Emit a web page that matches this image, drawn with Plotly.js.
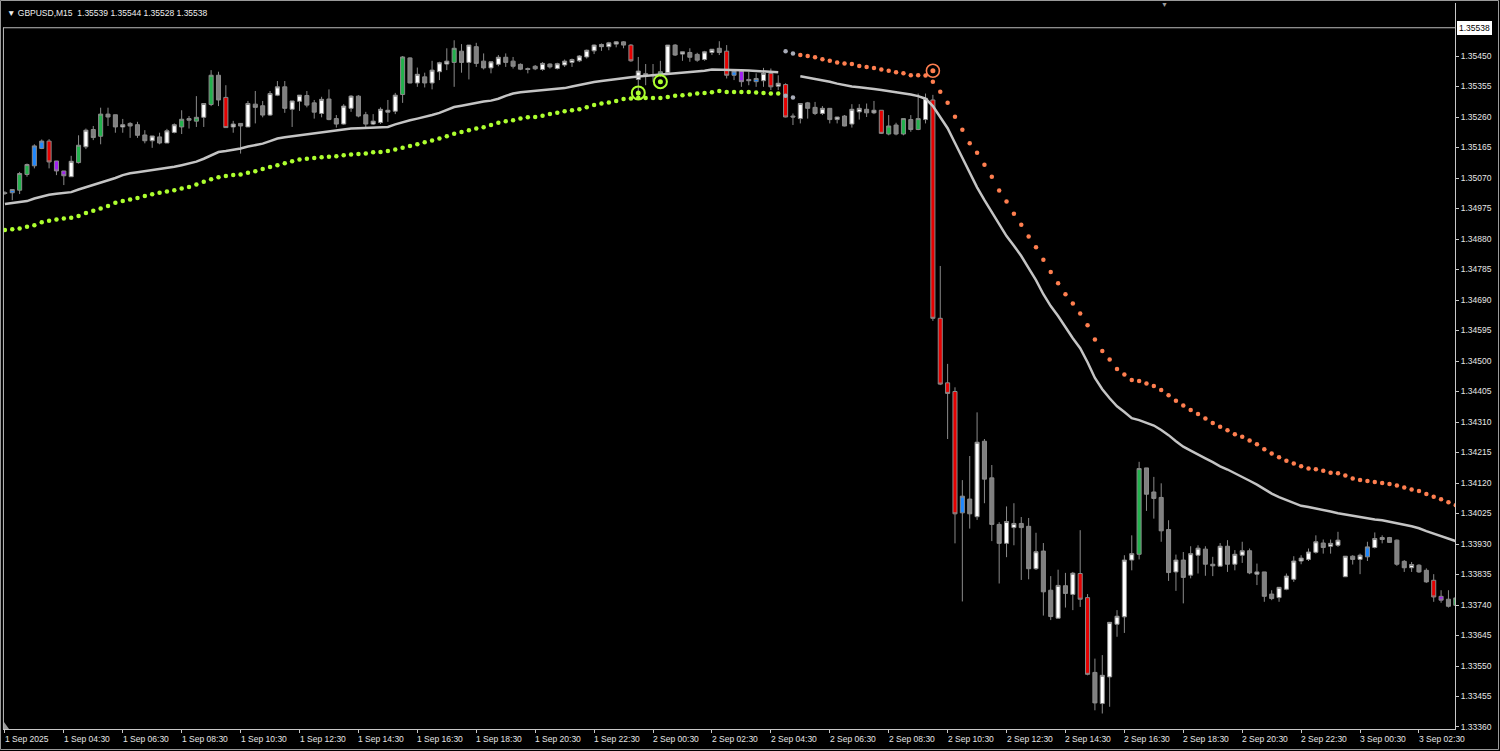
<!DOCTYPE html>
<html>
<head>
<meta charset="utf-8">
<script src="https://cdn.plot.ly/plotly-3.0.1.min.js"></script>
<style>
html,body{margin:0;padding:0;background:#000;overflow:hidden}
#chart{width:1500px;height:751px}
</style>
</head>
<body>
<div id="chart"></div>
<script>
// ---------------- data ----------------
const symbolTitle = 'GBPUSD,M15';
const lastQuote = ['1.35539', '1.35544', '1.35528', '1.35538'];
const bidPrice = 1.35538;

const timeLabels = ['1 Sep 2025','1 Sep 04:30','1 Sep 06:30','1 Sep 08:30','1 Sep 10:30','1 Sep 12:30',
  '1 Sep 14:30','1 Sep 16:30','1 Sep 18:30','1 Sep 20:30','1 Sep 22:30','2 Sep 00:30','2 Sep 02:30',
  '2 Sep 04:30','2 Sep 06:30','2 Sep 08:30','2 Sep 10:30','2 Sep 12:30','2 Sep 14:30','2 Sep 16:30',
  '2 Sep 18:30','2 Sep 20:30','2 Sep 22:30','3 Sep 00:30','3 Sep 02:30'];
const barsPerLabel = 8;

const priceTickLabels = ['1.35450','1.35355','1.35260','1.35165','1.35070','1.34975','1.34880','1.34785',
  '1.34690','1.34595','1.34500','1.34405','1.34310','1.34215','1.34120','1.34025','1.33930','1.33835',
  '1.33740','1.33645','1.33550','1.33455','1.33360'];

// candle colour class per bar: w=white, g=gray, u=green, d=red, b=blue, p=purple
const candleType = ('gbuubbdppw' + 'uwguggwggg' + 'wgwwuguwug' + 'dwgwggwwgw' + 'wggwggwwgg' +
  'wwwwugwgww' + 'wugwggwwgg' + 'gggwgwwwww' + 'wwwwgdwggu' + 'wgwggwwgdb' +
  'ppbwdwdgwg' + 'gwgwgwwgwd' + 'uguguwdddd' + 'bgwgggwwgg' + 'wggwgwddgw' +
  'wwwwuggggw' + 'gwwggwgwwg' + 'wggwwwwwwg' + 'wwwgwbwwgg' + 'gwggdpgu').split('');

const openP = [
1.35024,1.35024,1.35032,1.35081,1.35108,1.35162,1.35185,1.35123,1.35092,1.35074,
1.35118,1.35167,1.35221,1.35200,1.35269,1.35267,1.35229,1.35240,1.35236,1.35204,
1.35186,1.35198,1.35179,1.35212,1.35229,1.35255,1.35247,1.35259,1.35299,1.35390,
1.35321,1.35229,1.35240,1.35229,1.35300,1.35295,1.35266,1.35328,1.35354,1.35284,
1.35309,1.35327,1.35304,1.35271,1.35316,1.35255,1.35238,1.35287,1.35325,1.35267,
1.35238,1.35243,1.35275,1.35278,1.35330,1.35444,1.35366,1.35385,1.35366,1.35401,
1.35425,1.35430,1.35465,1.35430,1.35479,1.35434,1.35413,1.35424,1.35446,1.35434,
1.35424,1.35411,1.35418,1.35408,1.35425,1.35411,1.35422,1.35430,1.35435,1.35447,
1.35466,1.35479,1.35479,1.35487,1.35494,1.35484,1.35377,1.35395,1.35392,1.35390,
1.35398,1.35484,1.35456,1.35461,1.35455,1.35439,1.35461,1.35474,1.35465,1.35390,
1.35403,1.35377,1.35370,1.35373,1.35396,1.35356,1.35361,1.35263,1.35255,1.35304,
1.35290,1.35271,1.35287,1.35252,1.35263,1.35238,1.35276,1.35284,1.35273,1.35281,
1.35207,1.35235,1.35207,1.35252,1.35221,1.35252,1.35313,1.34633,1.34432,1.34405,
1.34027,1.34070,1.34015,1.34250,1.34136,1.33991,1.33932,1.33981,1.33994,1.33985,
1.33853,1.33908,1.33786,1.33699,1.33800,1.33773,1.33838,1.33763,1.33530,1.33433,
1.33516,1.33680,1.33703,1.33880,1.33898,1.34167,1.34092,1.34075,1.33975,1.33843,
1.33880,1.33833,1.33895,1.33914,1.33867,1.33861,1.33923,1.33867,1.33895,1.33909,
1.33836,1.33843,1.33774,1.33763,1.33789,1.33820,1.33877,1.33882,1.33904,1.33933,
1.33923,1.33926,1.33828,1.33892,1.33882,1.33890,1.33919,1.33944,1.33950,1.33942,
1.33876,1.33856,1.33864,1.33848,1.33817,1.33767,1.33758,1.33739];

const highP = [
1.35029,1.35035,1.35089,1.35115,1.35175,1.35190,1.35191,1.35123,1.35092,1.35139,
1.35203,1.35224,1.35232,1.35289,1.35289,1.35267,1.35254,1.35244,1.35245,1.35219,
1.35201,1.35211,1.35223,1.35240,1.35281,1.35263,1.35325,1.35302,1.35406,1.35401,
1.35359,1.35248,1.35240,1.35310,1.35341,1.35310,1.35341,1.35372,1.35372,1.35310,
1.35328,1.35341,1.35313,1.35323,1.35346,1.35266,1.35300,1.35328,1.35328,1.35276,
1.35269,1.35290,1.35313,1.35335,1.35450,1.35446,1.35414,1.35398,1.35435,1.35432,
1.35474,1.35499,1.35487,1.35484,1.35491,1.35458,1.35432,1.35453,1.35458,1.35447,
1.35427,1.35414,1.35422,1.35431,1.35427,1.35429,1.35439,1.35442,1.35453,1.35470,
1.35486,1.35489,1.35494,1.35496,1.35496,1.35487,1.35447,1.35425,1.35425,1.35435,
1.35484,1.35487,1.35463,1.35474,1.35460,1.35466,1.35471,1.35496,1.35484,1.35403,
1.35406,1.35401,1.35396,1.35413,1.35411,1.35390,1.35365,1.35271,1.35302,1.35307,
1.35307,1.35294,1.35287,1.35260,1.35266,1.35300,1.35300,1.35302,1.35310,1.35281,
1.35266,1.35242,1.35255,1.35266,1.35333,1.35333,1.35329,1.34796,1.34491,1.34418,
1.34129,1.34204,1.34340,1.34257,1.34176,1.33998,1.34047,1.34057,1.34014,1.34011,
1.33965,1.33933,1.33830,1.33850,1.33840,1.33843,1.33973,1.33774,1.33573,1.33584,
1.33686,1.33724,1.33895,1.33957,1.34186,1.34167,1.34139,1.34119,1.34004,1.33897,
1.33905,1.33923,1.33926,1.33923,1.33890,1.33933,1.33942,1.33911,1.33937,1.33916,
1.33869,1.33843,1.33786,1.33795,1.33838,1.33892,1.33895,1.33916,1.33957,1.33944,
1.33944,1.33968,1.33892,1.33895,1.33900,1.33937,1.33966,1.33957,1.33952,1.33944,
1.33880,1.33874,1.33867,1.33854,1.33836,1.33786,1.33786,1.33765];

const lowP = [
1.35017,1.35001,1.35020,1.35074,1.35100,1.35160,1.35100,1.35079,1.35048,1.35074,
1.35115,1.35160,1.35188,1.35175,1.35232,1.35211,1.35211,1.35195,1.35195,1.35178,
1.35164,1.35175,1.35179,1.35209,1.35207,1.35224,1.35229,1.35229,1.35294,1.35294,
1.35227,1.35211,1.35146,1.35229,1.35240,1.35259,1.35263,1.35325,1.35273,1.35229,
1.35279,1.35290,1.35255,1.35259,1.35250,1.35227,1.35236,1.35276,1.35259,1.35224,
1.35235,1.35238,1.35245,1.35269,1.35304,1.35365,1.35354,1.35352,1.35346,1.35375,
1.35406,1.35354,1.35398,1.35377,1.35416,1.35408,1.35396,1.35418,1.35416,1.35411,
1.35406,1.35396,1.35406,1.35404,1.35411,1.35408,1.35416,1.35416,1.35431,1.35442,
1.35456,1.35466,1.35468,1.35477,1.35474,1.35432,1.35318,1.35359,1.35370,1.35385,
1.35396,1.35450,1.35435,1.35432,1.35432,1.35435,1.35453,1.35453,1.35380,1.35375,
1.35354,1.35359,1.35354,1.35354,1.35344,1.35344,1.35259,1.35235,1.35240,1.35255,
1.35266,1.35266,1.35240,1.35240,1.35231,1.35227,1.35252,1.35260,1.35269,1.35207,
1.35203,1.35203,1.35203,1.35214,1.35219,1.35240,1.34625,1.34425,1.34257,1.33932,
1.33751,1.33978,1.34005,1.34057,1.33939,1.33807,1.33889,1.33926,1.33818,1.33820,
1.33849,1.33707,1.33693,1.33699,1.33732,1.33724,1.33734,1.33521,1.33412,1.33402,
1.33423,1.33641,1.33653,1.33848,1.33882,1.34033,1.34009,1.33937,1.33815,1.33784,
1.33745,1.33823,1.33838,1.33831,1.33830,1.33861,1.33843,1.33848,1.33871,1.33836,
1.33802,1.33750,1.33755,1.33750,1.33786,1.33812,1.33867,1.33877,1.33900,1.33900,
1.33900,1.33921,1.33828,1.33866,1.33836,1.33877,1.33916,1.33932,1.33933,1.33862,
1.33843,1.33843,1.33840,1.33809,1.33750,1.33747,1.33732,1.33734];

const closeP = [
1.35022,1.35034,1.35084,1.35112,1.35170,1.35185,1.35120,1.35092,1.35077,1.35122,
1.35172,1.35219,1.35196,1.35269,1.35260,1.35229,1.35236,1.35232,1.35203,1.35186,
1.35201,1.35179,1.35217,1.35236,1.35253,1.35250,1.35259,1.35302,1.35390,1.35313,
1.35227,1.35238,1.35232,1.35302,1.35290,1.35266,1.35333,1.35354,1.35287,1.35310,
1.35328,1.35297,1.35275,1.35315,1.35252,1.35238,1.35294,1.35325,1.35263,1.35238,
1.35247,1.35284,1.35281,1.35328,1.35447,1.35366,1.35393,1.35366,1.35406,1.35429,
1.35434,1.35474,1.35430,1.35484,1.35427,1.35413,1.35432,1.35446,1.35430,1.35418,
1.35409,1.35408,1.35410,1.35427,1.35416,1.35426,1.35434,1.35439,1.35450,1.35468,
1.35484,1.35486,1.35491,1.35494,1.35484,1.35435,1.35403,1.35392,1.35389,1.35401,
1.35484,1.35453,1.35463,1.35446,1.35437,1.35463,1.35471,1.35461,1.35390,1.35403,
1.35370,1.35373,1.35380,1.35396,1.35354,1.35365,1.35260,1.35260,1.35302,1.35287,
1.35271,1.35287,1.35252,1.35260,1.35232,1.35284,1.35287,1.35273,1.35281,1.35209,
1.35232,1.35207,1.35255,1.35221,1.35255,1.35318,1.34633,1.34428,1.34399,1.34024,
1.34079,1.34024,1.34247,1.34132,1.33991,1.33932,1.34000,1.33994,1.33981,1.33853,
1.33906,1.33781,1.33704,1.33801,1.33776,1.33839,1.33758,1.33524,1.33435,1.33521,
1.33686,1.33705,1.33880,1.33900,1.34165,1.34085,1.34072,1.33971,1.33841,1.33880,
1.33826,1.33900,1.33917,1.33867,1.33862,1.33923,1.33867,1.33898,1.33909,1.33840,
1.33843,1.33767,1.33760,1.33795,1.33830,1.33877,1.33886,1.33905,1.33937,1.33919,
1.33932,1.33942,1.33892,1.33882,1.33895,1.33921,1.33947,1.33950,1.33935,1.33867,
1.33856,1.33866,1.33843,1.33812,1.33765,1.33755,1.33736,1.33762];

// light-gray trend line (breaks where the trend flips)
const trendLine = [
1.34989,1.34992,1.34995,1.34998,1.35006,1.35012,1.35018,1.35021,1.35023,1.35026,
1.35034,1.35041,1.35048,1.35054,1.35062,1.35070,1.35079,1.35085,1.35088,1.35091,
1.35094,1.35098,1.35102,1.35105,1.35110,1.35116,1.35121,1.35130,1.35141,1.35151,
1.35154,1.35157,1.35162,1.35168,1.35172,1.35177,1.35185,1.35193,1.35197,1.35200,
1.35203,1.35207,1.35210,1.35213,1.35216,1.35219,1.35221,1.35224,1.35225,1.35226,
1.35227,1.35228,1.35229,1.35237,1.35244,1.35250,1.35255,1.35260,1.35266,1.35273,
1.35283,1.35291,1.35295,1.35300,1.35305,1.35308,1.35311,1.35317,1.35326,1.35333,
1.35337,1.35339,1.35341,1.35343,1.35345,1.35347,1.35350,1.35355,1.35360,1.35365,
1.35369,1.35372,1.35375,1.35379,1.35383,1.35384,1.35386,1.35388,1.35389,1.35390,
1.35393,1.35396,1.35397,1.35399,1.35401,1.35404,1.35408,1.35408,1.35406,1.35406,
1.35406,1.35405,1.35404,1.35402,1.35401,1.35399,null,null,1.35387,1.35383,
1.35378,1.35373,1.35370,1.35364,1.35359,1.35355,1.35353,1.35349,1.35347,1.35344,
1.35341,1.35338,1.35334,1.35330,1.35325,1.35317,1.35294,1.35260,1.35225,1.35179,
1.35132,1.35085,1.35041,1.35001,1.34964,1.34926,1.34889,1.34859,1.34827,1.34789,
1.34752,1.34708,1.34671,1.34640,1.34605,1.34571,1.34540,1.34496,1.34447,1.34412,
1.34384,1.34359,1.34341,1.34322,1.34316,1.34308,1.34299,1.34285,1.34269,1.34250,
1.34233,1.34221,1.34210,1.34197,1.34185,1.34172,1.34162,1.34151,1.34138,1.34127,
1.34115,1.34101,1.34087,1.34076,1.34067,1.34057,1.34049,1.34045,1.34041,1.34035,
1.34031,1.34026,1.34022,1.34017,1.34012,1.34008,1.34006,1.34004,1.34000,1.33995,
1.33990,1.33985,1.33979,1.33970,1.33962,1.33954,1.33947,1.33939];

// lime support dots (first bar = supportStart)
const supportStart = 0;
const supportDots = [
1.34908,1.34910,1.34913,1.34918,1.34923,1.34932,1.34937,1.34941,1.34944,1.34946,
1.34952,1.34961,1.34968,1.34975,1.34983,1.34993,1.34998,1.35003,1.35008,1.35014,
1.35019,1.35024,1.35028,1.35032,1.35037,1.35042,1.35050,1.35058,1.35066,1.35072,
1.35076,1.35079,1.35081,1.35086,1.35091,1.35098,1.35104,1.35110,1.35116,1.35122,
1.35128,1.35130,1.35132,1.35135,1.35136,1.35138,1.35141,1.35143,1.35145,1.35146,
1.35150,1.35151,1.35154,1.35159,1.35164,1.35170,1.35175,1.35181,1.35187,1.35193,
1.35200,1.35208,1.35213,1.35219,1.35224,1.35228,1.35235,1.35242,1.35247,1.35250,
1.35255,1.35259,1.35260,1.35264,1.35269,1.35273,1.35278,1.35281,1.35284,1.35290,
1.35297,1.35302,1.35305,1.35310,1.35316,1.35318,1.35320,1.35319,1.35319,1.35319,
1.35322,1.35326,1.35328,1.35330,1.35333,1.35335,1.35337,1.35341,1.35338,1.35338,
1.35338,1.35338,1.35336,1.35335,1.35333,1.35333];

// gray dots at the trend flip
const flipStart = 106;
const flipLowDots = [1.35326, 1.35321];
const flipHighDots = [1.35465, 1.35458];

// orange resistance dots (first bar = resistanceStart)
const resistanceStart = 108;
const resistanceDots = [
1.35453,1.35450,1.35446,1.35440,1.35435,1.35430,1.35427,1.35425,1.35419,1.35416,
1.35413,1.35408,1.35404,1.35399,1.35396,1.35390,1.35390,1.35389,1.35370,1.35339,
1.35304,1.35261,1.35220,1.35178,1.35149,1.35111,1.35074,1.35031,1.34997,1.34959,
1.34924,1.34888,1.34854,1.34815,1.34777,1.34742,1.34708,1.34679,1.34648,1.34611,
1.34567,1.34531,1.34505,1.34475,1.34458,1.34441,1.34438,1.34430,1.34422,1.34410,
1.34393,1.34376,1.34361,1.34347,1.34335,1.34321,1.34307,1.34295,1.34284,1.34272,
1.34264,1.34252,1.34241,1.34225,1.34212,1.34200,1.34189,1.34181,1.34172,1.34165,
1.34163,1.34158,1.34152,1.34150,1.34143,1.34134,1.34129,1.34126,1.34123,1.34120,
1.34117,1.34112,1.34106,1.34100,1.34095,1.34086,1.34077,1.34069,1.34060,1.34051];

const buySignalBars = [86, 89];
const buySignalPrices = [1.35335, 1.35370];
const sellSignalBars = [126];
const sellSignalPrices = [1.35404];

// ---------------- drawing ----------------
const FONT = 'Liberation Sans, Arial, sans-serif';
const fillColors = {w:'#ffffff', g:'#808080', u:'#22b14c', d:'#e60000', b:'#1e88ff', p:'#a020f0'};
const wickColor = '#8a8a8a';
const bars = openP.map((_, i) => i);

const traces = [];
Object.keys(fillColors).forEach(function (t) {
  const idx = bars.filter(i => candleType[i] === t);
  const st = {line: {color: wickColor, width: 1}, fillcolor: fillColors[t]};
  traces.push({
    type: 'candlestick', x: idx,
    open: idx.map(i => openP[i]), high: idx.map(i => highP[i]),
    low: idx.map(i => lowP[i]), close: idx.map(i => closeP[i]),
    increasing: st, decreasing: st, whiskerwidth: 0,
    hoverinfo: 'skip', showlegend: false
  });
});

traces.push({type: 'scatter', mode: 'lines', x: bars, y: trendLine, connectgaps: false,
  line: {color: '#c4c4c4', width: 2.5}, hoverinfo: 'skip', showlegend: false});

traces.push({type: 'scatter', mode: 'markers', x: supportDots.map((_, k) => supportStart + k), y: supportDots,
  marker: {size: 4.5, color: '#adff2f'}, hoverinfo: 'skip', showlegend: false});
traces.push({type: 'scatter', mode: 'markers', x: resistanceDots.map((_, k) => resistanceStart + k), y: resistanceDots,
  marker: {size: 4.5, color: '#ff7f50'}, hoverinfo: 'skip', showlegend: false});
traces.push({type: 'scatter', mode: 'markers',
  x: flipLowDots.map((_, k) => flipStart + k).concat(flipHighDots.map((_, k) => flipStart + k)),
  y: flipLowDots.concat(flipHighDots),
  marker: {size: 4.5, color: '#a8acb8'}, hoverinfo: 'skip', showlegend: false});

// signal markers: dot with ring
traces.push({type: 'scatter', mode: 'markers', x: buySignalBars, y: buySignalPrices,
  marker: {size: 5, color: '#adff2f'}, hoverinfo: 'skip', showlegend: false});
traces.push({type: 'scatter', mode: 'markers', x: buySignalBars, y: buySignalPrices,
  marker: {size: 13, symbol: 'circle-open', color: '#adff2f', line: {width: 2, color: '#adff2f'}},
  hoverinfo: 'skip', showlegend: false});
traces.push({type: 'scatter', mode: 'markers', x: sellSignalBars, y: sellSignalPrices,
  marker: {size: 5, color: '#ff7f50'}, hoverinfo: 'skip', showlegend: false});
traces.push({type: 'scatter', mode: 'markers', x: sellSignalBars, y: sellSignalPrices,
  marker: {size: 13, symbol: 'circle-open', color: '#ff7f50', line: {width: 1.6, color: '#ff7f50'}},
  hoverinfo: 'skip', showlegend: false});

// ----- geometry (page pixels) -----
const W = 1500, H = 751;
const plotL = 3, plotR = 1455, plotT = 3, plotB = 729;
const bar0X = 4.9, barStep = 7.365;          // pixel centre of bar 0 and bar spacing
const xRange = [(plotL - bar0X) / barStep, (plotR - bar0X) / barStep];
const px2p = 1 / 32105;                        // price per pixel
const refPrice = 1.35450, refY = 56;           // a tick label position
const yRange = [refPrice - (plotB - refY) * px2p, refPrice + (refY - plotT) * px2p];
const pw = plotR - plotL, ph = plotB - plotT;
const paperX = px => (px - plotL) / pw;
const paperY = py => (plotB - py) / ph;

const axisColor = '#c8c8c8';
const axisFont = {family: FONT, size: 8.5, color: '#e6e6e6'};

const annotations = [];
annotations.push({xref: 'paper', yref: 'paper', x: 0, y: 1, xanchor: 'left', yanchor: 'top',
  xshift: 2, yshift: -3, showarrow: false,
  text: '\u25BC ' + symbolTitle + '\u00a0\u00a0' + lastQuote.join(' '),
  font: {family: FONT, size: 8.5, color: '#eeeeee'}});
timeLabels.forEach(function (t, k) {
  annotations.push({xref: 'x', yref: 'paper', x: k * barsPerLabel, y: 0, xanchor: 'left', yanchor: 'top',
    xshift: -2, yshift: -3, showarrow: false, text: t, font: axisFont});
});
annotations.push({xref: 'paper', yref: 'y', x: 1, y: bidPrice, xanchor: 'left', yanchor: 'middle',
  xshift: 2, showarrow: false, text: bidPrice.toFixed(5), bgcolor: '#ffffff', bordercolor: '#ffffff',
  borderpad: 1, font: {family: FONT, size: 8.5, color: '#000000'}});
annotations.push({xref: 'paper', yref: 'paper', x: paperX(1164), y: 1, xanchor: 'center', yanchor: 'top',
  yshift: 4, showarrow: false, text: '\u25BC', font: {family: FONT, size: 7, color: '#9a9a9a'}});

const shapes = [
  // bid line
  {type: 'line', xref: 'paper', yref: 'y', x0: 0, x1: 1, y0: bidPrice, y1: bidPrice,
    line: {color: '#bcbcbc', width: 1}},
  // left edge of chart area
  {type: 'line', xref: 'paper', yref: 'y', x0: 0.0003, x1: 0.0003, y0: yRange[0], y1: bidPrice,
    line: {color: '#bcbcbc', width: 1}},
  // outer window frame
  {type: 'rect', xref: 'paper', yref: 'paper', x0: paperX(0.5), x1: paperX(W - 1.5),
    y0: paperY(H - 1.5), y1: paperY(0.5), line: {color: '#9a9a9a', width: 1}},
  // small corner marker
  {type: 'path', xref: 'paper', yref: 'paper',
    path: 'M ' + paperX(4) + ' ' + paperY(722) + ' L ' + paperX(4) + ' ' + paperY(729) + ' L ' + paperX(9) + ' ' + paperY(729) + ' Z',
    fillcolor: '#9a9a9a', line: {width: 0}}
];

const layout = {
  width: W, height: H,
  margin: {l: plotL, r: W - plotR, t: plotT, b: H - plotB, pad: 0},
  paper_bgcolor: '#000000', plot_bgcolor: '#000000',
  showlegend: false, boxmode: 'overlay', boxgap: 0.45, boxgroupgap: 0,
  xaxis: {range: xRange, showgrid: false, zeroline: false, showline: true, linecolor: axisColor,
    linewidth: 1, ticks: 'outside', ticklen: 3, tickcolor: axisColor, tickwidth: 1,
    tickmode: 'array', tickvals: timeLabels.map((_, k) => k * barsPerLabel), showticklabels: false,
    rangeslider: {visible: false}, fixedrange: true},
  yaxis: {side: 'right', range: yRange, showgrid: false, zeroline: false, showline: true,
    linecolor: axisColor, linewidth: 1, ticks: 'outside', ticklen: 3, tickcolor: axisColor,
    tickmode: 'array', tickvals: priceTickLabels.map(Number), ticktext: priceTickLabels,
    tickfont: axisFont, fixedrange: true},
  annotations: annotations,
  shapes: shapes
};

Plotly.newPlot('chart', traces, layout, {displayModeBar: false, staticPlot: true});
</script>
</body>
</html>
